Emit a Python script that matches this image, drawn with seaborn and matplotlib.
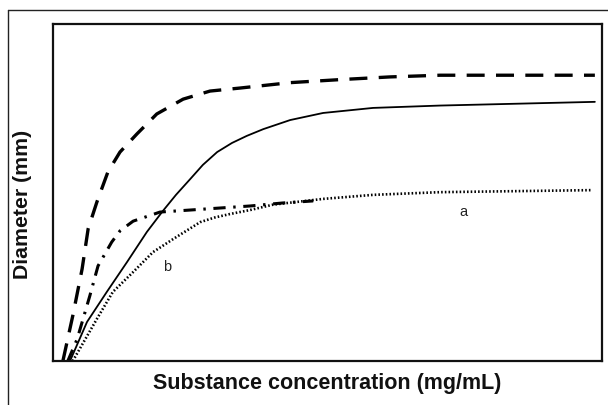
import matplotlib
matplotlib.use("Agg")
import matplotlib.pyplot as plt
from matplotlib.lines import Line2D
import seaborn as sns

sns.set_theme(style="white")
plt.rcParams['font.family'] = ['Liberation Sans', 'DejaVu Sans']

# Curves (arbitrary units, 0-100 on both axes)
dashed_x = [1.8, 3.6, 5.3, 6.4, 8.0, 10.0, 12.2, 15.3, 18.9, 23.7, 28.6, 34.1, 43.2, 52.3, 61.4, 70.5, 98.7]
dashed_y = [0.0, 13.4, 27.3, 39.2, 47.2, 56.1, 62.0, 67.4, 73.3, 77.7, 80.1, 81.0, 82.6, 83.5, 84.3, 84.8, 84.8]

solid_x = [3.1, 6.2, 9.8, 13.5, 17.1, 20.0, 22.4, 25.0, 27.3, 29.9, 32.6, 35.3, 38.3, 43.2, 49.2, 58.3, 70.5, 98.7]
solid_y = [0.0, 11.6, 20.5, 29.4, 38.3, 44.5, 49.3, 54.0, 58.2, 62.0, 64.7, 66.8, 68.8, 71.5, 73.6, 75.1, 75.8, 76.9]

dotted_x = [3.6, 8.0, 10.9, 14.6, 18.2, 21.9, 26.8, 29.5, 32.2, 35.9, 40.1, 49.2, 58.3, 70.5, 98.0]
dotted_y = [0.0, 12.5, 20.5, 26.4, 32.3, 36.2, 41.2, 42.6, 43.6, 44.8, 46.4, 48.1, 49.3, 50.1, 50.7]

dashdot_x = [2.7, 4.4, 6.7, 8.2, 10.7, 12.2, 14.6, 19.5, 25.0, 35.9, 41.9, 47.4]
dashdot_y = [0.0, 6.5, 19.3, 28.2, 35.3, 38.6, 41.5, 44.2, 44.8, 46.0, 46.9, 47.5]

labels = ["a", "b"]
label_x = [74.7, 20.8]
label_y = [44.5, 28.2]

xlabel = "Substance concentration (mg/mL)"
ylabel = "Diameter (mm)"

fig = plt.figure(figsize=(6.08, 4.06), dpi=100)
ax = fig.add_axes([53/608, 44/406, 549/608, 337/406])

sns.lineplot(x=dashed_x, y=dashed_y, ax=ax, color="black", lw=2.4,
             linestyle=(0, (5.4, 3.4)), sort=False)
sns.lineplot(x=solid_x, y=solid_y, ax=ax, color="black", lw=1.3, sort=False)
sns.lineplot(x=dotted_x, y=dotted_y, ax=ax, color="black", lw=1.9,
             linestyle=(0, (0.6, 0.8)), sort=False)
sns.lineplot(x=dashdot_x, y=dashdot_y, ax=ax, color="black", lw=2.2,
             linestyle=(0, (4, 2.5, 0.8, 2.5)), sort=False)

for t, x, y in zip(labels, label_x, label_y):
    ax.text(x, y, t, ha="center", va="center", fontsize=10.5, color="#222222")

ax.set_xlim(0, 100)
ax.set_ylim(0, 100)
ax.set_xticks([])
ax.set_yticks([])
for s in ax.spines.values():
    s.set_visible(True)
    s.set_color("#111111")
    s.set_linewidth(1.6)

fig.text(327.5/608, 1 - 384/406, xlabel, ha="center", va="center",
         fontsize=15.5, fontweight="bold", color="#111111")
fig.text(23/608, 1 - 204/406, ylabel, ha="center", va="center", rotation=90,
         fontsize=15.3, fontweight="bold", color="#111111")

# outer frame (left and top)
fig.add_artist(Line2D([7.5/608, 7.5/608], [0, 1 - 10.5/406], transform=fig.transFigure,
                      color="#222222", lw=1.0))
fig.add_artist(Line2D([7.5/608, 1], [1 - 10.5/406, 1 - 10.5/406], transform=fig.transFigure,
                      color="#222222", lw=1.0))

fig.savefig("out.png", dpi=100)
